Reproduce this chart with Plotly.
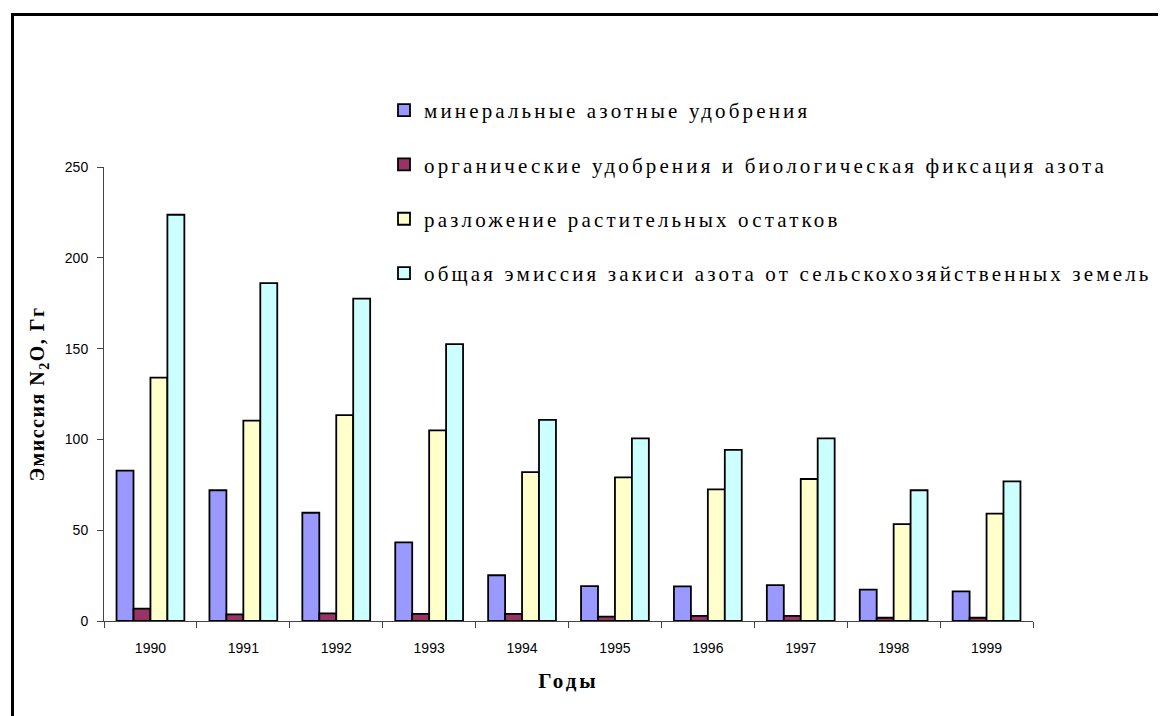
import plotly.graph_objects as go

years = ["1990", "1991", "1992", "1993", "1994", "1995", "1996", "1997", "1998", "1999"]
mineral = [82.8, 72.0, 59.6, 43.3, 25.2, 19.2, 19.1, 19.8, 17.3, 16.3]
organic = [6.8, 3.7, 4.2, 3.9, 3.9, 2.4, 2.8, 2.8, 1.8, 1.8]
residues = [134.0, 110.3, 113.4, 105.0, 82.0, 79.1, 72.5, 78.2, 53.4, 59.1]
total = [223.7, 186.1, 177.5, 152.5, 110.7, 100.6, 94.2, 100.6, 72.0, 76.9]

names = [
    "минеральные азотные удобрения",
    "органические удобрения и биологическая фиксация азота",
    "разложение растительных остатков",
    "общая эмиссия закиси азота от сельскохозяйственных земель",
]
colors = ["#9999FF", "#993366", "#FFFFCC", "#CCFFFF"]
series = [mineral, organic, residues, total]

SERIF = "Liberation Serif, Times New Roman, serif"
SANS = "Liberation Sans, Arial, sans-serif"

fig = go.Figure()
for i, (n, c, s) in enumerate(zip(names, colors, series)):
    fig.add_trace(go.Bar(
        x=years, y=s, name=n, legendgroup=f"g{i}",
        marker=dict(color=c, line=dict(color="black", width=1.8)),
    ))

# page has an 8px body margin; compensate
OFF = 8
W, H = 1166 - OFF, 716 - OFF
L, R, T, B = 104 - OFF, 133, 167 - OFF, 95
pw, ph = W - L - R, H - T - B

def px_x(p):
    return (p - OFF - L) / pw

def px_y(p):
    return (H - B - (p - OFF)) / ph

fig.update_layout(
    width=W, height=H,
    margin=dict(l=L, r=R, t=T, b=B),
    paper_bgcolor="white", plot_bgcolor="white",
    font=dict(family=SERIF),
    barmode="group", bargap=0.27, bargroupgap=0.0,
    showlegend=True,
    legend=dict(
        x=px_x(384), y=px_y(90), xanchor="left", yanchor="top",
        xref="paper", yref="paper",
        font=dict(family=SERIF, size=21, color="black", weight="normal"),
        traceorder="grouped", tracegroupgap=24,
        bgcolor="rgba(0,0,0,0)", itemwidth=30,
    ),
    xaxis=dict(
        type="category", tickson="boundaries", ticks="outside", ticklen=6,
        tickcolor="#444444", showline=True, linecolor="#444444", linewidth=1,
        tickfont=dict(family=SANS, size=14, color="black"),
        ticklabelstandoff=14,
        title=dict(text="<b>Годы</b>", font=dict(family=SERIF, size=21, color="black"), standoff=18),
        showgrid=False,
    ),
    yaxis=dict(
        range=[0, 250], dtick=50, ticks="outside", ticklen=6,
        tickcolor="#444444", showline=True, linecolor="#444444", linewidth=1,
        tickfont=dict(family=SANS, size=14, color="black"),
        ticklabelstandoff=6,
        title=dict(text="<b>Эмиссия N<sub>2</sub>O, Гг</b>", font=dict(family=SERIF, size=20, color="black"), standoff=14),
        showgrid=False, zeroline=False,
    ),
    shapes=[dict(
        type="rect", xref="paper", yref="paper",
        x0=px_x(12.5), x1=px_x(1185), y0=px_y(740), y1=px_y(14.5),
        line=dict(color="black", width=3), fillcolor="rgba(0,0,0,0)",
    )],
)

post = """
var gd = document.getElementById('{plot_id}');
function spacing() {
  gd.querySelectorAll('.legend [clip-path]').forEach(function(e){ e.removeAttribute('clip-path'); });
  gd.querySelectorAll('.legendtext').forEach(function(e){
    e.style.letterSpacing = '3.15px';
    e.style.fontFamily = "'Liberation Serif', 'Times New Roman', serif";
  });
  gd.querySelectorAll('.g-xtitle text').forEach(function(e){ e.style.letterSpacing = '3px'; });
  gd.querySelectorAll('.g-ytitle text').forEach(function(e){ e.style.letterSpacing = '1.5px'; });
}
spacing();
gd.on('plotly_afterplot', spacing);
"""

fig.write_html("out.html", post_script=post)
